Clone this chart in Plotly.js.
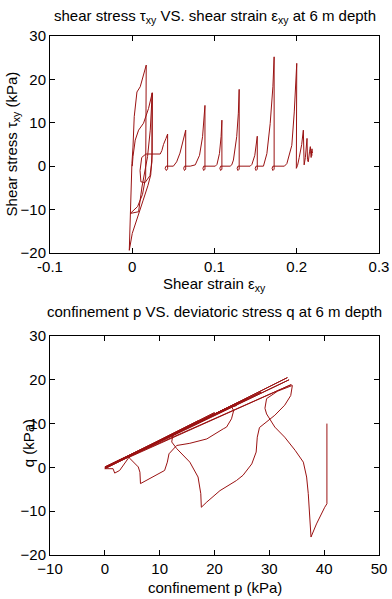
<!DOCTYPE html>
<html>
<head>
<meta charset="utf-8">
<script src="https://cdn.plot.ly/plotly-3.0.1.min.js"></script>
<style>html,body{margin:0;padding:0;background:#fff;}#chart{width:392px;height:599px;}</style>
</head>
<body>
<div id="chart"></div>
<script>
// ---- Top panel: shear stress vs shear strain ----
const shearStrain = [0,0.0009,0.0036,0.0077,0.0137,0.0198,0.0243,0.0241,0.0225,0.019,0.013,0.006,0.000,-0.0036,
  -0.0024,-0.0016,-0.0004,0.0009,0.0024,0.0057,0.0097,0.017,0.0168,0.0163,0.0125,0.0065,-0.0024,0.0077,0.0118,
  0.0158,0.0186,0.0219,0.0243,0.0240,0.0215,0.0155,0.0105,0.0095,0.0115,0.0165,0.034,0.036,0.038,0.041,0.043,
  0.043,0.0415,0.040,0.041,0.050,0.054,0.058,0.061,0.065,0.065,0.0635,0.0625,0.0635,0.0705,0.0766,0.0818,0.0855,
  0.0884,0.0884,0.0869,0.0859,0.0869,0.101,0.103,0.106,0.108,0.109,0.109,0.1075,0.1065,0.1075,0.119,0.121,0.123,
  0.127,0.129,0.130,0.130,0.1285,0.1275,0.1285,0.1434,0.1455,0.149,0.151,0.152,0.152,0.1505,0.1495,0.1505,0.1595,
  0.1637,0.1677,0.171,0.1725,0.1725,0.171,0.170,0.171,0.185,0.188,0.194,0.197,0.200,0.1995,0.201,0.203,0.206,0.208,
  0.2085,0.209,0.2105,0.2125,0.213,0.214,0.2155,0.2165,0.2175,0.2185,0.219,0.2175,0.2185,0.217];
const shearStress = [0,2.2,6.0,8.3,9.9,13.3,16.9,3,-2,-4.5,-8,-12,-15.5,-19.4,
  -10.9,-5.5,0.6,4.4,11.4,17.1,18.3,23.3,5,-2.5,-6.5,-9.3,-10.9,-10.5,-4.8,
  -0.9,2.2,8.3,16.9,1.0,-2.2,-3.8,-3.6,-1.0,2.0,2.8,2.8,3.6,5.0,6.4,7.4,
  -0.6,-1.0,-0.5,0,0,1,3,5,8.3,-0.7,-1.0,-0.5,0,0,0.3,2.5,6.8,
  14.0,-0.7,-1.0,-0.5,0,0,0.4,2.9,6.8,10.6,-0.7,-1.0,-0.5,0,0,0.3,1.4,
  6.8,12.2,17.7,-0.7,-1.0,-0.5,0,0,0.4,2.5,5.0,6.9,-0.7,-1.0,-0.5,0,0,
  2.9,9.8,18.3,25.2,-0.7,-1.0,-0.5,0,0,0.6,4.8,12.5,23.7,-0.5,0.2,2,5,8.3,
  1.0,0.3,2.0,6.4,1.5,1.0,3.3,4.5,2.0,4.0,3.0,3.5,2.5,3.2];

// ---- Bottom panel: deviatoric stress q vs confinement p ----
const confinementP = [40.5,40.5,40.1,38.6,37.6,37.5,37.4,37.1,36.8,36.2,34.7,32.8,31.0,29.5,29.2,29.5,31.5,34.2,
  33.9,32.8,31.0,28.2,27.8,27.6,26.8,25.2,24.0,22.5,21.0,18.6,17.6,17.5,17.0,15.5,13.1,12.2,12.4,33.3,
  0.0,1.5,1.8,2.7,3.6,4.4,34.0,0.3,24.6,24.0,23.1,23.5,23.1,22.2,21.6,18.6,15.5,13.1,11.7,11.4,10.9,8.8,
  7.0,6.5,6.4,6.1,4.6,4.3,20.0,0.2,26.0,0.0,22.0,0.1,33.6,0.2,17.0,0.0,28.5,0.3];
const deviatoricQ = [10.0,-8.3,-9.1,-12.9,-15.9,-13.5,-10.6,-6.0,-2.2,1.2,3.9,6.9,9.2,12.2,13.5,15.7,17.4,18.7,
  16.4,14.2,11.9,9.1,6.9,3.5,0.8,-1.8,-3.0,-4.1,-5.3,-7.9,-9.1,-6.0,-2.2,1.2,4.3,5.8,7.4,20.5,
  -0.3,-0.3,-1.3,-0.7,0.8,2.3,18.9,0.2,15.0,14.1,13.8,13.0,11.1,9.2,8.8,6.5,5.5,5.0,3.1,1.2,-0.7,-2.2,
  -3.4,-3.7,-1.1,0.1,2.0,2.6,12.5,0.0,15.8,0.1,13.4,-0.2,20.0,0.1,10.6,-0.1,17.2,0.0];

// ---- Tick labels ----
const topXTicks = [-0.1, 0, 0.1, 0.2, 0.3];
const topXTickText = ['-0.1', '0', '0.1', '0.2', '0.3'];
const topYTicks = [-20, -10, 0, 10, 20, 30];
const botXTicks = [-10, 0, 10, 20, 30, 40, 50];
const botYTicks = [-20, -10, 0, 10, 20, 30];

const lineColor = '#9a1212';
const font = 'Liberation Sans, Arial, sans-serif';
const fs = 15;

const traces = [
  {x: shearStrain, y: shearStress, xaxis: 'x', yaxis: 'y', mode: 'lines',
   line: {color: lineColor, width: 1}},
  {x: confinementP, y: deviatoricQ, xaxis: 'x2', yaxis: 'y2', mode: 'lines',
   line: {color: lineColor, width: 1}}
];

const axisBase = {
  showline: true, linecolor: '#000', linewidth: 1, mirror: 'allticks',
  ticks: 'inside', ticklen: 5, tickcolor: '#000', tickwidth: 1,
  showgrid: false, zeroline: false, tickfont: {family: font, size: fs, color: '#000'},
  fixedrange: true
};

const layout = {
  width: 392, height: 599,
  margin: {l: 50, r: 13, t: 36, b: 44},
  paper_bgcolor: '#fff', plot_bgcolor: '#fff',
  showlegend: false, hovermode: false,
  font: {family: font, size: fs, color: '#000'},
  xaxis: Object.assign({}, axisBase, {anchor: 'y', domain: [0, 1], range: [-0.1, 0.3],
    tickmode: 'array', tickvals: topXTicks, ticktext: topXTickText}),
  yaxis: Object.assign({}, axisBase, {anchor: 'x', domain: [0.582, 1], range: [-20, 30],
    tickmode: 'array', tickvals: topYTicks}),
  xaxis2: Object.assign({}, axisBase, {anchor: 'y2', domain: [0, 1], range: [-10, 50],
    tickmode: 'array', tickvals: botXTicks}),
  yaxis2: Object.assign({}, axisBase, {anchor: 'x2', domain: [0, 0.422], range: [-20, 30],
    tickmode: 'array', tickvals: botYTicks}),
  annotations: [
    {text: 'shear stress τ<sub>xy</sub> VS. shear strain ε<sub>xy</sub> at 6 m depth',
     xref: 'x domain', yref: 'y domain', x: 0.5, y: 1, yanchor: 'bottom', yshift: 8,
     showarrow: false, font: {family: font, size: fs}},
    {text: 'Shear strain ε<sub>xy</sub>', xref: 'x domain', yref: 'y domain', x: 0.5, y: 0,
     yanchor: 'top', yshift: -20, showarrow: false, font: {family: font, size: fs}},
    {text: 'Shear stress τ<sub>xy</sub> (kPa)', xref: 'paper', yref: 'y domain', x: 0, y: 0.5,
     xanchor: 'center', xshift: -38, textangle: -90, showarrow: false, font: {family: font, size: fs}},
    {text: 'confinement p VS. deviatoric stress q at 6 m depth',
     xref: 'x2 domain', yref: 'y2 domain', x: 0.5, y: 1, yanchor: 'bottom', yshift: 14,
     showarrow: false, font: {family: font, size: fs}},
    {text: 'confinement p (kPa)', xref: 'x2 domain', yref: 'y2 domain', x: 0.5, y: 0,
     yanchor: 'top', yshift: -22, showarrow: false, font: {family: font, size: fs}},
    {text: 'q (kPa)', xref: 'paper', yref: 'y2 domain', x: 0, y: 0.51,
     xanchor: 'center', xshift: -22, textangle: -90, showarrow: false, font: {family: font, size: fs}}
  ]
};

Plotly.newPlot('chart', traces, layout, {staticPlot: true, displayModeBar: false});
</script>
</body>
</html>
